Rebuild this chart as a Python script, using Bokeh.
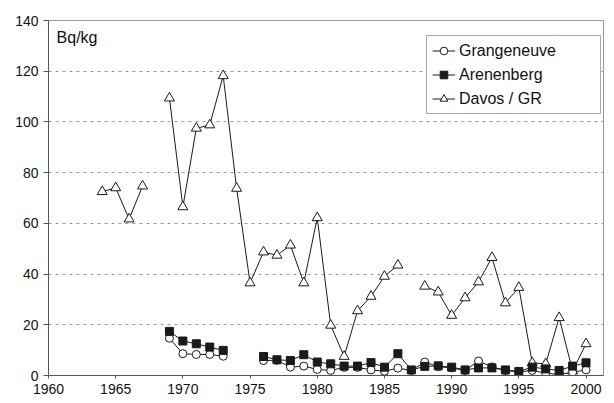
import numpy as np
from bokeh.plotting import figure
from bokeh.models import ColumnDataSource, Label, FixedTicker, Range1d, Legend, LegendItem
from bokeh.embed import file_html
from bokeh.resources import INLINE

nan = np.nan

davos_years = list(range(1964, 2001))
davos = [72.5, 74.0, 61.7, 74.7, nan, 109.4, 66.5, 97.5, 98.8, 118.2, 73.8, 36.5,
         48.7, 47.4, 51.4, 36.5, 62.2, 19.8, 7.5, 25.5, 31.2, 39.1, 43.5, nan,
         35.2, 32.9, 23.7, 30.6, 36.9, 46.5, 28.6, 34.7, 5.0, 4.6, 22.8, 1.8, 12.5]

farm_years = list(range(1969, 2001))
arenenberg = [17.4, 13.6, 12.5, 11.2, 9.9, nan, nan, 7.5, 6.2, 5.9, 8.2, 5.3,
              4.6, 3.7, 3.7, 5.1, 3.3, 8.6, 2.2, 3.6, 3.8, 3.3, 2.2, 3.0,
              3.0, 2.2, 1.6, 3.3, 2.6, 2.0, 3.7, 5.0]
grangeneuve = [14.7, 8.6, 8.3, 8.3, 7.6, nan, nan, 5.9, 6.0, 3.3, 3.7, 2.4,
               2.0, 3.2, 3.2, 2.2, 1.7, 2.9, 2.0, 5.3, 3.5, 3.0, 2.0, 5.7,
               3.4, 2.0, 1.4, 2.0, 0.9, 0.4, 1.3, 2.2]

x_ticks = [1960, 1965, 1970, 1975, 1980, 1985, 1990, 1995, 2000]
y_ticks = [0, 20, 40, 60, 80, 100, 120, 140]
unit_label = "Bq/kg"
names = ["Grangeneuve", "Arenenberg", "Davos / GR"]

FONT = "Liberation Sans"

p = figure(width=606, height=400, output_backend="svg", toolbar_location=None,
           x_range=Range1d(1960, 2001.3), y_range=Range1d(0, 140),
           min_border_left=48, min_border_top=20, min_border_right=3, min_border_bottom=25)
p.background_fill_color = "white"
p.border_fill_color = "white"
p.outline_line_color = "#999999"
p.outline_line_width = 1

p.xgrid.grid_line_color = None
p.ygrid.grid_line_color = "#9a9a9a"
p.ygrid.grid_line_dash = "3 4"
p.ygrid.grid_line_width = 1

p.xaxis.ticker = FixedTicker(ticks=x_ticks)
p.yaxis.ticker = FixedTicker(ticks=y_ticks)
for ax in (p.xaxis, p.yaxis):
    ax.axis_line_color = "#555555"
    ax.major_tick_line_color = "#555555"
    ax.minor_tick_line_color = None
    ax.major_tick_in = 0
    ax.major_label_text_font = FONT
    ax.major_label_text_font_size = "14px"
    ax.major_label_text_color = "#111111"
p.xaxis.major_tick_out = 3
p.xaxis.major_label_standoff = 5
p.yaxis.major_tick_out = 5
p.yaxis.major_label_standoff = 5

src_d = ColumnDataSource(dict(x=davos_years, y=davos))
src_a = ColumnDataSource(dict(x=farm_years, y=arenenberg))
src_g = ColumnDataSource(dict(x=farm_years, y=grangeneuve))

lc = "#1a1a1a"
ld = p.line("x", "y", source=src_d, line_color=lc, line_width=1)
sd = p.scatter("x", "y", source=src_d, marker="triangle", size=10,
               fill_color="white", line_color=lc, line_width=1)
la = p.line("x", "y", source=src_a, line_color=lc, line_width=1)
lg = p.line("x", "y", source=src_g, line_color=lc, line_width=1)
sg = p.scatter("x", "y", source=src_g, marker="circle", size=8,
               fill_color="white", line_color=lc, line_width=1)
sa = p.scatter("x", "y", source=src_a, marker="square", size=8,
               fill_color=lc, line_color=lc, line_width=1)

legend = Legend(items=[
    LegendItem(label=names[0], renderers=[lg, sg]),
    LegendItem(label=names[1], renderers=[la, sa]),
    LegendItem(label=names[2], renderers=[ld, sd]),
], location=(378, 261))
legend.label_text_font = FONT
legend.label_text_font_size = "16px"
legend.label_text_color = "#111111"
legend.glyph_width = 23
legend.glyph_height = 19
legend.label_height = 19
legend.label_standoff = 4
legend.spacing = 5
legend.padding = 5
legend.margin = 0
legend.label_width = 136
legend.border_line_color = "#555555"
legend.border_line_width = 1
legend.background_fill_color = "white"
legend.background_fill_alpha = 1
p.add_layout(legend)

p.add_layout(Label(x=1960.6, y=136.5, text=unit_label, text_baseline="top",
                   text_font=FONT, text_font_size="16px", text_color="#111111"))

open("out.html", "w").write(file_html(p, INLINE))
